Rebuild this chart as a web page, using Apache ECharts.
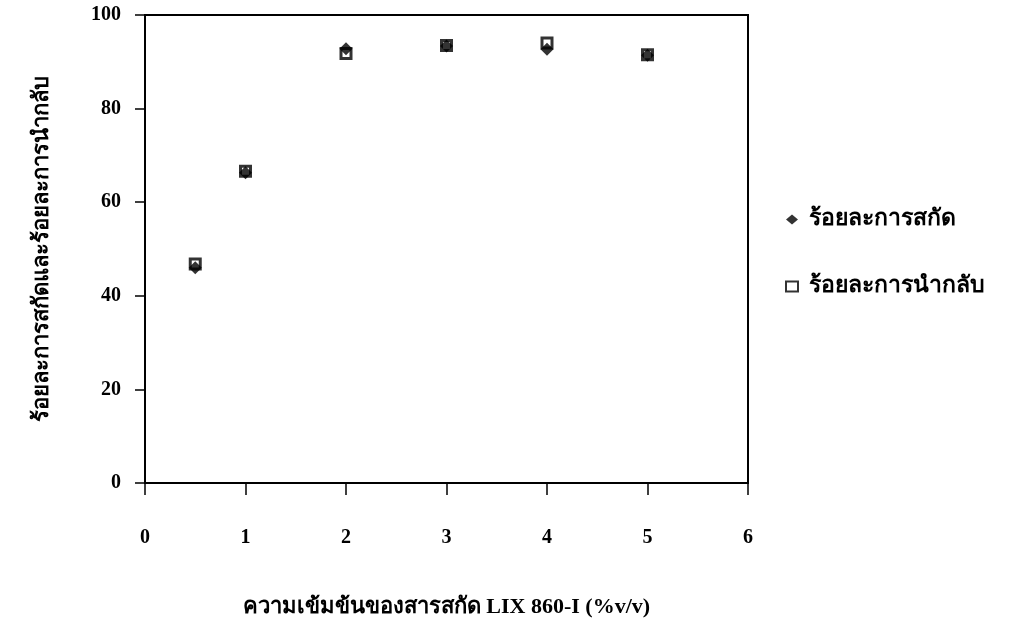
<!DOCTYPE html>
<html>
<head>
<meta charset="utf-8">
<script src="https://cdn.jsdelivr.net/npm/echarts@6/dist/echarts.min.js"></script>
<style>html,body{margin:0;padding:0;background:#fff}#c{width:1022px;height:628px}</style>
</head>
<body>
<div id="c"></div>
<script>
const concentrations = [0.5, 1, 2, 3, 4, 5];
const extraction = [46.0, 66.3, 92.8, 93.4, 92.7, 91.4];
const recovery = [46.8, 66.6, 91.8, 93.5, 94.0, 91.5];
const seriesNames = ['ร้อยละการสกัด', 'ร้อยละการนำกลับ'];
const xTitle = 'ความเข้มข้นของสารสกัด LIX 860-I (%v/v)';
const yTitle = 'ร้อยละการสกัดและร้อยละการนำกลับ';

const FONT = '"Liberation Serif", "Noto Sans", serif';
const chart = echarts.init(document.getElementById('c'));
chart.setOption({
  animation: false,
  backgroundColor: '#fff',
  grid: {left: 145, right: 274, top: 15, bottom: 145, show: true, borderColor: '#000', borderWidth: 2, backgroundColor: 'transparent'},
  legend: {
    orient: 'vertical', left: 780, top: 203, itemGap: 44, itemWidth: 12, itemHeight: 10,
    textStyle: {fontFamily: FONT, fontWeight: 'bold', fontSize: 23, color: '#000', padding: [0,0,0,6]},
    data: [
      {name: seriesNames[0], icon: 'diamond', itemStyle: {color: '#000', borderWidth: 0}},
      {name: seriesNames[1], icon: 'rect', itemStyle: {color: '#fff', borderColor: '#000', borderWidth: 2}}
    ]
  },
  xAxis: {
    type: 'value', min: 0, max: 6, interval: 1,
    name: xTitle, nameLocation: 'middle', nameGap: 113,
    nameTextStyle: {fontFamily: FONT, fontWeight: 'bold', fontSize: 22, color: '#000'},
    axisLine: {lineStyle: {color: '#000', width: 2}},
    axisTick: {inside: false, length: 12, lineStyle: {color: '#000', width: 1.5}},
    axisLabel: {margin: 45, fontFamily: FONT, fontWeight: 'bold', fontSize: 20, color: '#000'},
    splitLine: {show: false}
  },
  yAxis: {
    type: 'value', min: 0, max: 100, interval: 20,
    name: yTitle, nameLocation: 'middle', nameGap: 92, nameRotate: 90,
    nameTextStyle: {fontFamily: FONT, fontWeight: 'bold', fontSize: 22, color: '#000'},
    axisLine: {lineStyle: {color: '#000', width: 1.5}},
    axisTick: {inside: false, length: 10, lineStyle: {color: '#000', width: 1.5}},
    axisLabel: {margin: 24, fontFamily: FONT, fontWeight: 'bold', fontSize: 20, color: '#000'},
    splitLine: {show: false}
  },
  series: [
    {
      name: seriesNames[0], type: 'scatter', symbol: 'diamond', symbolSize: 13, z: 3,
      itemStyle: {color: '#000'},
      data: concentrations.map((x, i) => [x, extraction[i]])
    },
    {
      name: seriesNames[1], type: 'scatter', symbol: 'rect', symbolSize: 10, z: 2,
      itemStyle: {color: '#fff', borderColor: '#000', borderWidth: 3},
      data: concentrations.map((x, i) => [x, recovery[i]])
    }
  ]
});
</script>
</body>
</html>
